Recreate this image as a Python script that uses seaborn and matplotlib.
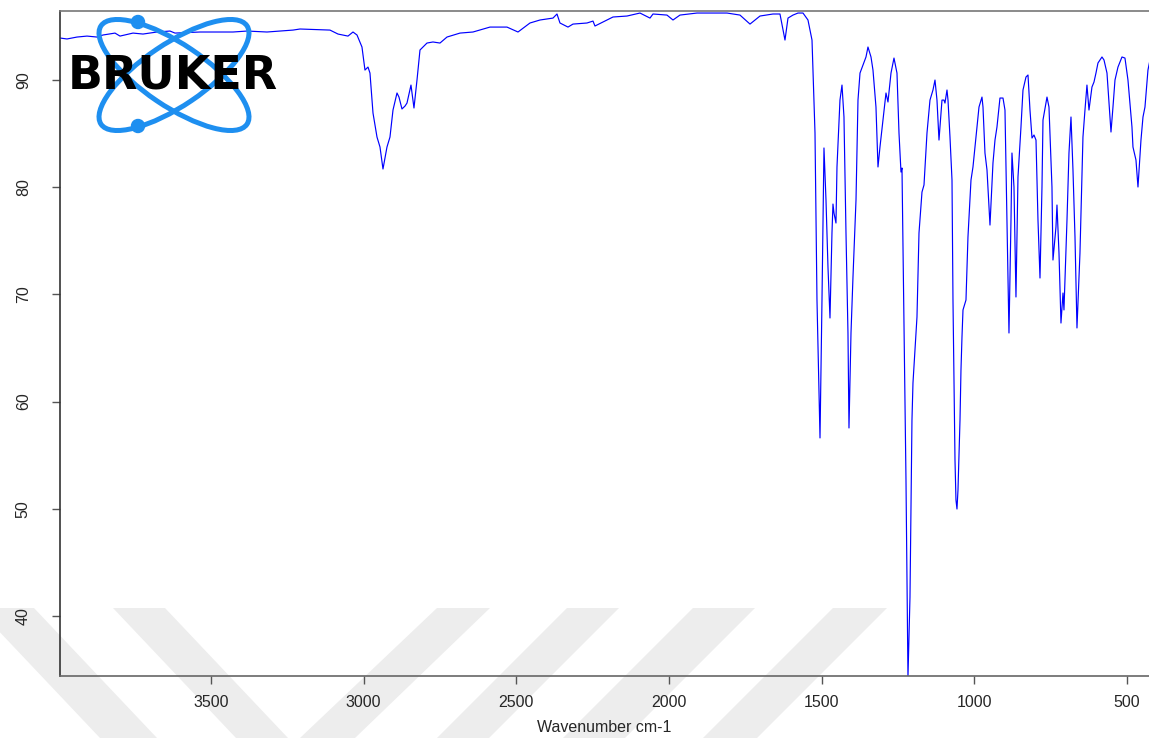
import numpy as np
import pandas as pd
import matplotlib
matplotlib.use("Agg")
import matplotlib.pyplot as plt
import seaborn as sns
from matplotlib.patches import Ellipse, Circle, Polygon

# ---- data (wavenumber cm-1, transmittance %) ----
wavenumber = [
    3994.5, 3971.6, 3938.9, 3906.1, 3873.4, 3853.7, 3814.4, 3798.0, 3755.4, 3722.7,
    3676.8, 3634.3, 3617.9, 3536.0, 3427.9, 3382.1, 3316.6, 3231.4, 3208.5, 3110.3,
    3084.0, 3051.3, 3034.9, 3021.8, 3005.5, 2995.7, 2985.8, 2979.3, 2969.4, 2956.3,
    2946.5, 2936.7, 2923.6, 2913.8, 2903.9, 2890.8, 2884.3, 2874.5, 2864.6, 2858.1,
    2845.0, 2835.2, 2825.3, 2815.5, 2792.6, 2773.0, 2750.0, 2727.1, 2684.5, 2642.0,
    2586.3, 2530.6, 2494.5, 2455.3, 2422.5, 2379.9, 2366.8, 2357.0, 2330.8, 2314.4,
    2268.6, 2248.9, 2242.4, 2216.2, 2183.4, 2137.6, 2095.0, 2062.2, 2052.4, 2006.6,
    1986.9, 1964.0, 1908.3, 1875.5, 1810.0, 1767.5, 1734.7, 1702.0, 1659.4, 1636.5,
    1620.1, 1610.2, 1593.9, 1577.5, 1561.1, 1544.8, 1531.6, 1521.8, 1515.3, 1505.4,
    1498.9, 1492.4, 1485.8, 1479.3, 1472.7, 1466.2, 1462.9, 1459.6, 1453.1, 1449.8,
    1440.0, 1433.4, 1426.9, 1420.3, 1413.8, 1410.5, 1403.9, 1397.4, 1387.5, 1381.0,
    1374.4, 1364.6, 1354.8, 1348.3, 1338.4, 1331.9, 1322.1, 1315.5, 1309.0, 1299.1,
    1289.3, 1282.8, 1272.9, 1263.1, 1253.3, 1246.7, 1240.2, 1236.9, 1230.4, 1223.8,
    1217.3, 1210.7, 1204.2, 1200.9, 1194.3, 1187.8, 1181.2, 1171.4, 1164.8, 1155.0,
    1145.2, 1135.4, 1128.8, 1122.3, 1115.7, 1105.9, 1099.4, 1096.1, 1089.5, 1086.2,
    1079.7, 1073.1, 1069.9, 1066.6, 1063.3, 1060.1, 1056.8, 1053.5, 1046.9, 1043.7,
    1040.4, 1037.1, 1027.3, 1020.8, 1010.9, 1004.4, 991.3, 984.7, 974.9, 971.6,
    965.1, 958.5, 948.7, 938.9, 932.3, 925.8, 916.0, 906.1, 899.6, 893.0,
    886.5, 879.9, 876.7, 870.1, 863.6, 857.0, 847.2, 840.6, 830.8, 824.2,
    817.7, 811.1, 804.6, 798.0, 791.5, 784.9, 778.4, 775.1, 762.0, 755.5,
    745.7, 742.4, 732.6, 729.3, 722.7, 716.2, 709.6, 706.4, 696.5, 690.0,
    683.4, 676.9, 670.3, 663.8, 654.0, 644.2, 637.6, 631.1, 624.5, 614.7,
    608.1, 601.6, 595.0, 581.9, 575.3, 565.5, 559.0, 552.4, 545.9, 539.3,
    529.5, 516.4, 506.6, 496.8, 483.7, 480.4, 470.6, 464.0, 454.2, 447.6,
    441.1, 431.3, 424.7,
]
transmittance = [
    93.92, 93.83, 94.01, 94.10, 94.01, 94.20, 94.38, 94.10, 94.38, 94.29,
    94.48, 94.57, 94.38, 94.48, 94.48, 94.57, 94.48, 94.66, 94.76, 94.66,
    94.29, 94.10, 94.48, 94.20, 93.08, 90.93, 91.21, 90.65, 86.92, 84.68,
    83.75, 81.70, 83.75, 84.68, 87.20, 88.79, 88.41, 87.30, 87.57, 87.85,
    89.53, 87.39, 90.00, 92.80, 93.45, 93.55, 93.45, 94.01, 94.38, 94.48,
    94.94, 94.94, 94.48, 95.32, 95.60, 95.78, 96.16, 95.32, 94.94, 95.22,
    95.32, 95.50, 95.04, 95.41, 95.88, 95.97, 96.25, 95.78, 96.16, 96.06,
    95.60, 96.06, 96.25, 96.25, 96.25, 96.06, 95.22, 95.97, 96.16, 96.16,
    93.73, 95.78, 96.06, 96.25, 96.25, 95.60, 93.73, 85.06, 69.48, 56.61,
    69.48, 83.66, 78.81, 72.56, 67.80, 75.73, 78.43, 77.59, 76.66, 81.89,
    88.13, 89.53, 86.55, 75.73, 66.40, 57.54, 66.40, 71.62, 78.81, 88.13,
    90.65, 91.40, 92.15, 93.08, 92.15, 90.93, 87.48, 81.89, 83.75, 86.27,
    88.79, 87.95, 90.65, 92.05, 90.65, 85.06, 81.42, 81.79, 67.61, 52.69,
    34.30, 41.77, 58.28, 61.74, 64.81, 67.89, 75.73, 79.55, 80.21, 85.06,
    88.13, 89.07, 90.00, 88.13, 84.40, 88.13, 88.13, 87.85, 89.07, 88.13,
    84.68, 80.67, 69.48, 62.02, 54.55, 50.82, 49.98, 51.75, 58.28, 62.95,
    66.03, 68.55, 69.48, 75.36, 80.67, 81.89, 85.62, 87.48, 88.41, 87.48,
    83.19, 81.61, 76.47, 82.26, 84.40, 85.62, 88.32, 88.32, 87.20, 76.94,
    66.40, 76.94, 83.19, 80.02, 69.76, 80.95, 85.62, 89.07, 90.28, 90.47,
    87.20, 84.59, 84.87, 84.40, 76.94, 71.53, 80.02, 86.27, 88.41, 87.48,
    80.02, 73.21, 76.29, 78.34, 73.86, 67.33, 70.13, 68.55, 76.94, 83.19,
    86.55, 81.61, 75.36, 66.87, 73.86, 84.68, 87.20, 89.53, 87.20, 89.35,
    89.81, 90.65, 91.59, 92.15, 91.87, 90.65, 87.85, 85.15, 87.48, 90.00,
    91.21, 92.15, 92.05, 90.00, 85.62, 83.75, 82.54, 80.02, 84.40, 86.55,
    87.48, 90.93, 91.87,
]
x_ticks = [3500, 3000, 2500, 2000, 1500, 1000, 500]
y_ticks = [40, 50, 60, 70, 80, 90]
x_label = "Wavenumber cm-1"
logo_text = "BRUKER"

# ---- style ----
sns.set_style("ticks")
plt.rcParams["font.family"] = ["Liberation Sans", "DejaVu Sans"]

W, H = 1149, 738
fig = plt.figure(figsize=(W / 100, H / 100), dpi=100)

# background watermark layer (figure pixel space, y downward)
bg = fig.add_axes([0, 0, 1, 1], zorder=0)
bg.set_xlim(0, W)
bg.set_ylim(H, 0)
bg.axis("off")
wm_color = "#ededed"
stripes = [
    [(-23, 608), (34, 608), (157, 738), (100, 738)],
    [(113, 608), (165, 608), (288, 738), (236, 738)],
    [(437, 608), (490, 608), (355, 738), (300, 738)],
    [(567, 608), (619, 608), (489, 738), (437, 738)],
    [(693, 608), (755, 608), (625, 738), (563, 738)],
    [(833, 608), (887, 608), (757, 738), (703, 738)],
]
for s in stripes:
    bg.add_patch(Polygon(s, closed=True, facecolor=wm_color, edgecolor="none"))

# main axes
ax = fig.add_axes([60 / W, 62 / H, 1 - 60 / W, 665 / H], zorder=1)
ax.patch.set_alpha(0)
df = pd.DataFrame({"wavenumber": wavenumber, "transmittance": transmittance})
sns.lineplot(data=df, x="wavenumber", y="transmittance", ax=ax, color="#0000ff",
             linewidth=0.85, estimator=None, sort=False)
ax.set_xlim(3994.5, 427.9)
ax.set_ylim(34.4, 96.44)
ax.set_xticks(x_ticks)
ax.set_yticks(y_ticks)
ax.set_xlabel(x_label, fontsize=11.5, labelpad=7)
ax.set_ylabel("")
for side in ["left", "bottom", "top"]:
    ax.spines[side].set_visible(True)
    ax.spines[side].set_linewidth(1.2)
ax.spines["left"].set_color("#333333")
ax.spines["bottom"].set_color("#666666")
ax.spines["top"].set_color("#777777")
ax.spines["right"].set_visible(False)
ax.tick_params(axis="x", length=6, width=1, color="#555555", labelsize=11.5, pad=8)
ax.tick_params(axis="y", length=6, width=1, color="#555555", labelsize=11.5, pad=15,
               labelrotation=90)
for lab in ax.get_yticklabels():
    lab.set_va("center")

# logo layer on top
fg = fig.add_axes([0, 0, 1, 1], zorder=2)
fg.set_xlim(0, W)
fg.set_ylim(H, 0)
fg.axis("off")
logo_blue = "#1e8ff0"
fg.add_patch(Ellipse((174, 75), 176, 62, angle=34, fill=False, edgecolor=logo_blue, linewidth=3.6))
fg.add_patch(Ellipse((174, 75), 176, 62, angle=-34, fill=False, edgecolor=logo_blue, linewidth=3.6))
fg.add_patch(Circle((138, 22), 6.5, color=logo_blue))
fg.add_patch(Circle((138, 126), 6.5, color=logo_blue))
fg.text(173, 76, logo_text, ha="center", va="center", fontsize=33,
        fontweight="heavy", family="DejaVu Sans", color="black")

fig.savefig("out.png", dpi=100)
